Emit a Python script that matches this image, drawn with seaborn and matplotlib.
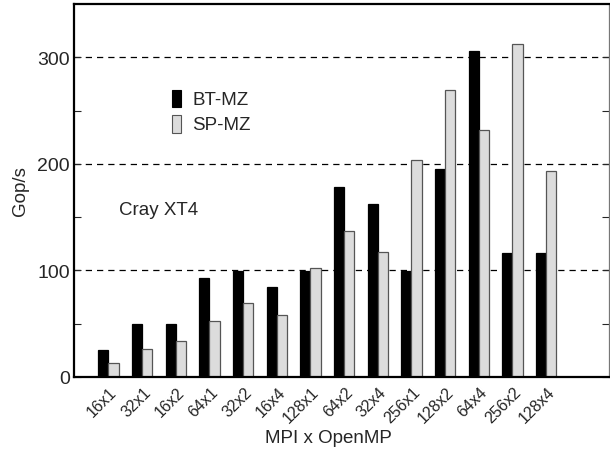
import matplotlib
matplotlib.use("Agg")
import matplotlib.pyplot as plt
import matplotlib.transforms as mtransforms
import seaborn as sns
import pandas as pd
from matplotlib.patches import Rectangle

configs = ["16x1", "32x1", "16x2", "64x1", "32x2", "16x4", "128x1",
           "64x2", "32x4", "256x1", "128x2", "64x4", "256x2", "128x4"]
bt_mz = [25, 50, 50, 93, 99, 84, 99, 178, 162, 99, 195, 306, 116, 116]
sp_mz = [13, 26, 34, 52, 69, 58, 102, 137, 117, 204, 269, 232, 312, 193]
series = ["BT-MZ", "SP-MZ"]
fills = {"BT-MZ": "#000000", "SP-MZ": "#dcdcdc"}
edges = {"BT-MZ": "#000000", "SP-MZ": "#555555"}

df = pd.DataFrame({
    "config": configs * 2,
    "gops": bt_mz + sp_mz,
    "bench": [series[0]] * len(configs) + [series[1]] * len(configs),
})

sns.set_theme(style="white")
plt.rcParams["font.family"] = ["Liberation Sans", "DejaVu Sans"]

fig = plt.figure(figsize=(6.1, 4.52), dpi=100)
ax = fig.add_axes([0.121, 0.164, 0.877, 0.825])

sns.barplot(data=df, x="config", y="gops", hue="bench", order=configs,
            hue_order=series, palette=fills, width=0.6, gap=0,
            saturation=1, legend=False, ax=ax)

# outline each bar with its series edge colour
n = len(configs)
for i, patch in enumerate(ax.patches[:2 * n]):
    name = series[i // n]
    patch.set_edgecolor(edges[name])
    patch.set_linewidth(0.9)

ax.set_xlim(-1.03, 14.86)
ax.set_ylim(0, 350)
ax.set_yticks([0, 100, 200, 300])
ax.set_yticks([50, 150, 250], minor=True)
for yv in [100, 200, 300]:
    ax.axhline(yv, color="black", lw=0.9, ls=(0, (5, 4)), zorder=0.5)

ax.tick_params(axis="y", which="both", direction="in", left=True, right=True,
               length=5, width=0.8, labelsize=14, pad=3)
ax.tick_params(axis="x", which="both", bottom=False, top=False, length=0,
               labelsize=11.5, pad=8)
shift = mtransforms.ScaledTranslation(5 / 100, 0, fig.dpi_scale_trans)
for lab in ax.get_xticklabels():
    lab.set_rotation(45)
    lab.set_ha("right")
    lab.set_va("center_baseline")
    lab.set_rotation_mode("anchor")
    lab.set_transform(lab.get_transform() + shift)

for side in ["left", "bottom", "top"]:
    ax.spines[side].set_color("black")
    ax.spines[side].set_linewidth(1.6)
ax.spines["right"].set_color("#777777")
ax.spines["right"].set_linewidth(0.9)

ax.set_xlabel("MPI x OpenMP", fontsize=13.5)
ax.xaxis.set_label_coords(0.476, -0.14)
ax.set_ylabel("Gop/s", fontsize=13.5, labelpad=6)

# hand-placed legend keys
trans = ax.transAxes
for k, name in enumerate(series):
    yk = 0.745 - k * 0.068
    ax.add_patch(Rectangle((0.183, yk - 0.022), 0.018, 0.046, transform=trans,
                           facecolor=fills[name], edgecolor=edges[name] if k else "black",
                           lw=0.8, clip_on=False))
    ax.text(0.222, yk, name, transform=trans, fontsize=13.5, va="center", ha="left")

ax.text(0.084, 0.448, "Cray XT4", transform=trans, fontsize=13.5, va="center", ha="left")

fig.savefig("out.png", dpi=100)
